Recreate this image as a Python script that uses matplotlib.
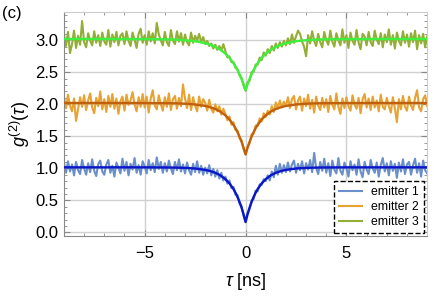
import numpy as np
import matplotlib
matplotlib.use("Agg")
import matplotlib.pyplot as plt
from matplotlib.ticker import MultipleLocator

plt.rcParams['font.family'] = ['Liberation Sans', 'DejaVu Sans']
plt.rcParams['mathtext.fontset'] = 'custom'
plt.rcParams['mathtext.rm'] = 'Liberation Sans'
plt.rcParams['mathtext.it'] = 'Liberation Sans:italic'

# delay axis of the measured histograms (ns), 0.1 ns bins
tau = np.round(np.arange(-9.0, 9.0001, 0.1), 2)

# measured g2 (raw, before vertical offset)
g2_em1 = [
    1.09, 0.93, 1.11, 0.95, 1.06, 0.89, 1.10, 0.97, 0.91, 1.13,
    1.00, 0.90, 1.08, 0.94, 1.14, 0.96, 0.88, 1.07, 1.12, 0.95,
    0.90, 1.06, 1.13, 0.93, 1.04, 0.87, 1.09, 1.01, 0.92, 1.15,
    0.96, 1.10, 0.89, 1.07, 0.98, 1.16, 0.93, 1.05, 0.90, 1.11,
    1.03, 0.92, 1.13, 0.97, 1.08, 0.94, 1.17, 0.99, 1.10, 0.93,
    1.08, 0.95, 1.12, 1.00, 0.91, 1.10, 0.97, 1.14, 0.95, 1.06,
    0.92, 1.09, 0.97, 0.90, 1.07, 0.94, 1.11, 0.93, 1.04, 0.90,
    1.01, 0.92, 1.05, 0.89, 0.99, 0.87, 0.97, 0.84, 0.93, 0.81,
    0.87, 0.76, 0.81, 0.69, 0.71, 0.59, 0.58, 0.45, 0.41, 0.26,
    0.17,
    0.30, 0.36, 0.50, 0.52, 0.65, 0.64, 0.75, 0.74, 0.83, 0.80,
    0.89, 0.81, 0.95, 0.86, 1.04, 0.90, 1.07, 0.93, 1.05, 0.94,
    1.09, 0.95, 1.06, 1.12, 0.93, 1.07, 0.97, 1.11, 0.92, 1.08,
    0.98, 1.13, 0.94, 1.24, 1.00, 0.91, 1.10, 0.96, 1.15, 0.93,
    1.08, 0.88, 1.12, 0.98, 0.92, 1.16, 0.96, 0.90, 1.09, 1.00,
    0.87, 1.11, 0.97, 1.06, 0.90, 1.14, 0.95, 0.86, 1.10, 0.98,
    0.91, 1.13, 1.00, 0.93, 1.09, 0.87, 1.05, 1.16, 0.95, 1.08,
    0.89, 1.11, 0.96, 1.07, 0.85, 1.09, 0.95, 1.14, 0.91, 1.06,
    1.10, 0.90, 1.05, 1.15, 0.93, 1.08, 0.87, 1.12, 0.97, 0.92,
]
g2_em2 = [
    1.12, 0.94, 1.15, 0.98, 0.89, 1.09, 0.74, 0.93, 1.11, 0.96,
    1.14, 0.91, 1.06, 1.17, 0.95, 0.86, 1.10, 0.97, 1.20, 0.92,
    1.08, 0.88, 1.13, 0.96, 1.16, 0.93, 1.09, 0.85, 1.05, 1.12,
    0.90, 1.15, 0.99, 1.06, 1.19, 1.00, 0.89, 1.11, 0.96, 1.16,
    0.95, 1.12, 0.87, 1.09, 1.22, 0.98, 0.92, 1.14, 1.00, 0.90,
    1.11, 0.96, 1.17, 0.91, 1.08, 1.13, 0.93, 1.10, 0.97, 1.31,
    1.09, 0.94, 1.15, 0.91, 1.11, 0.98, 0.89, 1.12, 0.96, 1.08,
    1.02, 0.90, 1.07, 0.93, 0.87, 1.00, 0.89, 0.97, 0.84, 0.93,
    0.85, 0.75, 0.81, 0.68, 0.72, 0.60, 0.59, 0.47, 0.44, 0.30,
    0.22,
    0.34, 0.39, 0.53, 0.54, 0.67, 0.66, 0.78, 0.73, 0.86, 0.80,
    0.90, 0.84, 0.97, 0.88, 1.03, 0.93, 1.06, 0.95, 1.04, 0.97,
    1.11, 0.94, 1.08, 1.13, 0.92, 1.06, 1.12, 0.90, 1.09, 0.97,
    1.15, 0.93, 1.07, 0.87, 1.12, 0.98, 0.91, 1.10, 0.95, 1.08,
    0.88, 1.13, 0.99, 0.92, 1.17, 0.96, 0.85, 1.09, 0.94, 1.11,
    0.97, 0.90, 1.14, 1.00, 0.93, 1.10, 0.86, 1.08, 1.16, 0.95,
    1.09, 0.91, 1.12, 0.95, 1.06, 0.89, 1.15, 0.96, 0.92, 1.10,
    0.97, 0.87, 1.11, 0.94, 0.72, 1.08, 0.92, 1.13, 0.96, 0.90,
    1.12, 0.98, 0.91, 1.10, 1.22, 0.95, 0.89, 1.08, 1.14, 0.97,
]
g2_em3 = [
    1.09, 0.91, 1.13, 0.80, 0.94, 1.15, 0.88, 1.07, 0.93, 1.30,
    0.97, 0.89, 1.11, 0.99, 0.92, 1.14, 0.96, 1.08, 0.91, 1.12,
    0.98, 0.93, 1.16, 0.90, 1.09, 0.97, 1.13, 0.92, 1.07, 1.11,
    0.94, 1.14, 0.99, 0.91, 1.12, 1.01, 0.88, 1.10, 1.18, 0.96,
    1.08, 0.93, 1.14, 0.98, 1.11, 0.95, 1.27, 1.09, 1.00, 0.92,
    1.13, 0.97, 0.91, 1.16, 1.00, 0.94, 1.14, 0.98, 1.11, 0.93,
    1.09, 0.97, 0.92, 1.12, 0.96, 1.07, 0.99, 1.10, 0.97, 1.05,
    0.94, 0.99, 0.91, 0.95, 0.87, 0.93, 0.85, 0.91, 0.84, 0.94,
    0.83, 0.73, 0.75, 0.66, 0.66, 0.57, 0.55, 0.45, 0.41, 0.29,
    0.21,
    0.34, 0.37, 0.50, 0.51, 0.62, 0.62, 0.73, 0.69, 0.81, 0.76,
    0.86, 0.80, 0.91, 0.84, 0.95, 0.88, 0.97, 0.90, 0.99, 0.92,
    1.03, 0.94, 1.09, 0.96, 1.06, 1.15, 1.10, 0.98, 0.90, 0.75,
    1.08, 0.95, 1.14, 0.99, 0.91, 1.10, 0.97, 0.89, 1.13, 1.00,
    0.93, 1.15, 0.98, 0.90, 1.11, 1.00, 0.92, 1.17, 0.96, 1.08,
    0.88, 1.12, 0.99, 0.93, 1.16, 0.97, 0.86, 1.10, 1.06, 0.92,
    1.13, 0.97, 0.91, 1.15, 1.01, 0.94, 1.11, 0.89, 1.09, 0.97,
    1.17, 0.93, 1.08, 0.87, 1.12, 0.99, 0.92, 1.14, 0.96, 1.09,
    0.90, 1.11, 0.97, 1.15, 0.86, 1.08, 0.95, 1.10, 0.89, 1.06,
]

# fitted curves, sampled denser near zero delay
tau_fit = [-9, -7, -5, -4, -3.5, -3, -2.5, -2, -1.75, -1.5, -1.25, -1, -0.8,
           -0.6, -0.5, -0.4, -0.3, -0.2, -0.1, 0, 0.1, 0.2, 0.3, 0.4, 0.5,
           0.6, 0.8, 1, 1.25, 1.5, 1.75, 2, 2.5, 3, 3.5, 4, 5, 7, 9]
fit_em1 = [1.015, 1.015, 1.015, 1.013, 1.011, 1.007, 0.997, 0.976, 0.957,
           0.930, 0.890, 0.831, 0.765, 0.676, 0.619, 0.553, 0.476, 0.387,
           0.282, 0.160, 0.282, 0.387, 0.476, 0.553, 0.619, 0.676, 0.765,
           0.831, 0.890, 0.930, 0.957, 0.976, 0.997, 1.007, 1.011, 1.013,
           1.015, 1.015, 1.015]
fit_em2 = [1.020, 1.020, 1.019, 1.017, 1.015, 1.009, 0.997, 0.974, 0.954,
           0.926, 0.885, 0.827, 0.763, 0.679, 0.626, 0.565, 0.496, 0.415,
           0.322, 0.215, 0.322, 0.415, 0.496, 0.565, 0.626, 0.679, 0.763,
           0.827, 0.885, 0.926, 0.954, 0.974, 0.997, 1.009, 1.015, 1.017,
           1.019, 1.020, 1.020]
fit_em3 = [1.020, 1.020, 1.018, 1.015, 1.010, 1.001, 0.985, 0.954, 0.930,
           0.897, 0.852, 0.791, 0.726, 0.642, 0.592, 0.535, 0.470, 0.397,
           0.314, 0.220, 0.314, 0.397, 0.470, 0.535, 0.592, 0.642, 0.726,
           0.791, 0.852, 0.897, 0.930, 0.954, 0.985, 1.001, 1.010, 1.015,
           1.018, 1.020, 1.020]

labels = ['emitter 1', 'emitter 2', 'emitter 3']
offsets = [0, 1, 2]
data_colors = ['#6a8fcb', '#e8a232', '#93ae34']
fit_colors = ['#0a16c8', '#c0600c', '#3ef03e']

fig = plt.figure(figsize=(4.35, 3.02), dpi=100)
ax = fig.add_axes([0.147, 0.218, 0.835, 0.742])

for g, off, c, lab in zip([g2_em1, g2_em2, g2_em3], offsets, data_colors, labels):
    ax.plot(tau, np.array(g) + off, color=c, lw=1.5, label=lab, zorder=2)
for f, off, c in zip([fit_em1, fit_em2, fit_em3], offsets, fit_colors):
    ax.plot(tau_fit, np.array(f) + off, color=c, lw=1.7, zorder=3)

ax.set_xlim(-9, 9)
ax.set_ylim(-0.06, 3.44)
ax.xaxis.set_major_locator(MultipleLocator(5))
ax.xaxis.set_minor_locator(MultipleLocator(1))
ax.yaxis.set_major_locator(MultipleLocator(0.5))
ax.yaxis.set_minor_locator(MultipleLocator(0.1))
ax.yaxis.set_major_formatter(plt.FormatStrFormatter('%.1f'))
ax.grid(True, which='major', color='#d0d0d0', lw=1.0, zorder=0)
ax.tick_params(which='both', direction='in', top=True, right=True,
               colors='#888888', labelcolor='black', labelsize=12)
ax.tick_params(which='major', length=4, width=0.8)
ax.tick_params(which='minor', length=2.5, width=0.6)
ax.tick_params(axis='x', which='major', pad=7)
ax.tick_params(axis='y', which='major', pad=4)
for side in ['left', 'bottom']:
    ax.spines[side].set_color('#888888')
for side in ['top', 'right']:
    ax.spines[side].set_color('#cccccc')

ax.set_xlabel(r'$\tau$ [ns]', fontsize=13, labelpad=7)
ax.set_ylabel(r'$g^{(2)}(\tau)$', fontsize=13, labelpad=2)
fig.text(0.005, 0.94, '(c)', fontsize=12)

leg = ax.legend(loc='lower right', bbox_to_anchor=(0.99, 0.015), fontsize=8.8,
                fancybox=False, framealpha=1, edgecolor='black',
                handlelength=1.9, handletextpad=0.7, labelspacing=0.25,
                borderpad=0.4, borderaxespad=0)
leg.get_frame().set_linestyle('--')
leg.get_frame().set_linewidth(1.0)

fig.savefig('out.png', dpi=100)
